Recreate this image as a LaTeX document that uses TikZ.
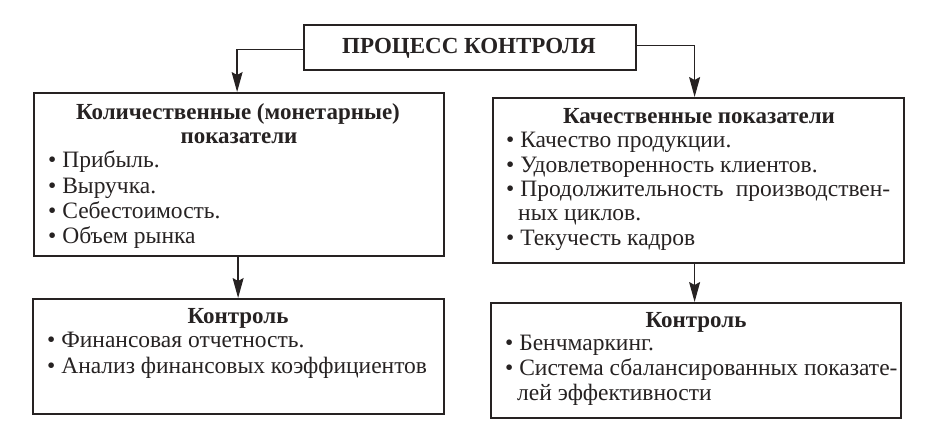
\documentclass[tikz,border=0pt]{standalone}
\usepackage{fontspec}
\setmainfont{Liberation Serif}
\usetikzlibrary{arrows.meta}
\definecolor{ink}{HTML}{262222}
\begin{document}
\begin{tikzpicture}[x=1pt,y=-1pt,
  box/.style={draw=ink,line width=2.2pt,rectangle,inner sep=0pt,anchor=north west},
  arr/.style={draw=ink,line width=1.3pt,-{Stealth[length=20pt,width=11pt,inset=3pt]}},
  txt/.style={anchor=base west,inner sep=0pt,text=ink,font=\fontsize{23.5}{26}\selectfont},
  head/.style={anchor=base,inner sep=0pt,text=ink,font=\fontsize{23}{26}\selectfont\bfseries}]
\useasboundingbox (0,0) rectangle (928,423);
% boxes
\node[box,minimum width=332pt,minimum height=45pt] (top) at (303,24) {};
\node[box,minimum width=410pt,minimum height=163pt] (qty) at (33,92) {};
\node[box,minimum width=411pt,minimum height=165pt] (qual) at (492,97) {};
\node[box,minimum width=411pt,minimum height=115pt] (cl) at (32,298) {};
\node[box,minimum width=410pt,minimum height=115pt] (cr) at (490,302) {};
% title
\node[head,font=\fontsize{23}{26}\selectfont\bfseries] (title) at (469,53) {ПРОЦЕСС КОНТРОЛЯ};
% left top
\node[head] (h1) at (238,119) {Количественные (монетарные)};
\node[head] (h1b) at (239,143) {показатели};
\node[txt] (a1) at (48,167) {• Прибыль.};
\node[txt] (a2) at (48,193) {• Выручка.};
\node[txt] (a3) at (48,218) {• Себестоимость.};
\node[txt] (a4) at (48,243) {• Объем рынка};
% right top
\node[head] (h2) at (699,123) {Качественные показатели};
\node[txt] (b1) at (506,147) {• Качество продукции.};
\node[txt] (b2) at (506,172) {• Удовлетворенность клиентов.};
\node[txt] (b3) at (506,196) {• \makebox[370pt][s]{Продолжительность\ \ производствен-}};
\node[txt] (b3b) at (518,220) {ных циклов.};
\node[txt] (b4) at (506,245) {• Текучесть кадров};
% bottom left
\node[head] (h3) at (238,323) {Контроль};
\node[txt] (c1) at (47,347) {• Финансовая отчетность.};
\node[txt] (c2) at (47,373) {• Анализ финансовых коэффициентов};
% bottom right
\node[head] (h4) at (696,327) {Контроль};
\node[txt] (d1) at (505,350) {• Бенчмаркинг.};
\node[txt] (d2) at (505,375) {• Система сбалансированных показате-};
\node[txt] (d2b) at (517,400) {лей эффективности};
% connectors
\draw[arr] ([yshift=-2pt]top.west) -| ([xshift=-2pt]qty.north);
\draw[arr] ([yshift=2pt]top.east) -| ([xshift=-4pt]qual.north);
\draw[arr] ([xshift=-1pt]qty.south) -- ([xshift=-1pt]qty.south |- cl.north);
\draw[arr] ([xshift=-4pt]qual.south) -- ([xshift=-4pt]qual.south |- cr.north);
\end{tikzpicture}
\end{document}
